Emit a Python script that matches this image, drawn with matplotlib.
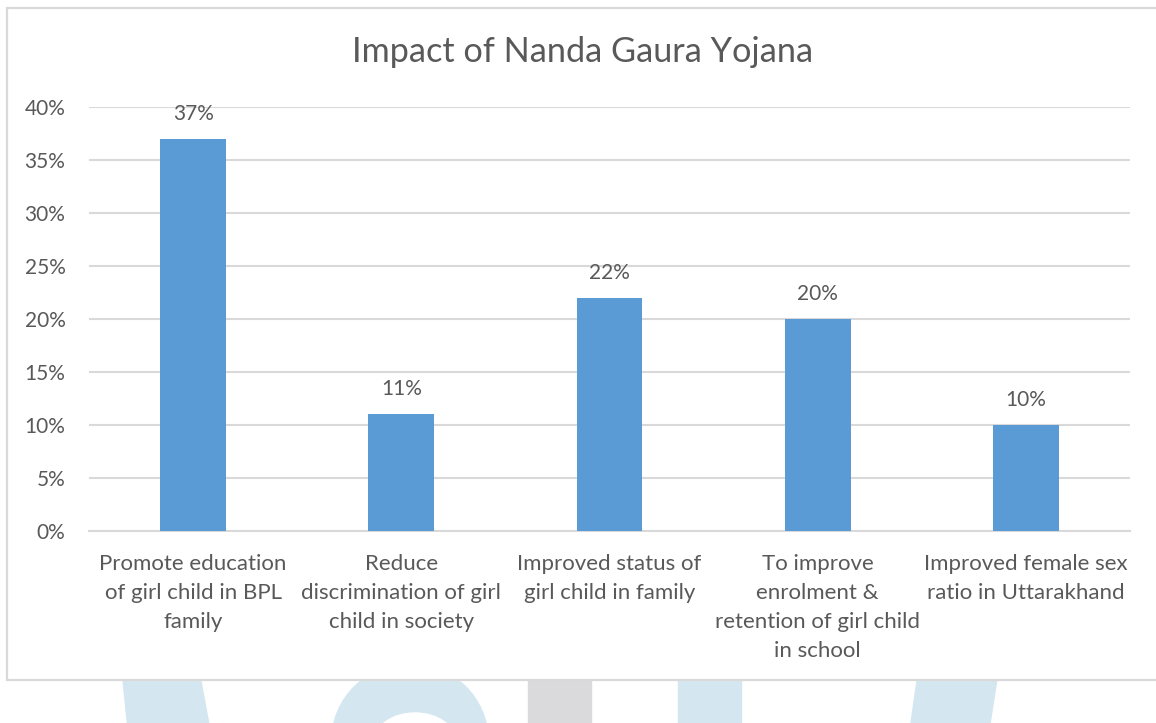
import matplotlib
matplotlib.use("Agg")
import matplotlib.pyplot as plt
from matplotlib.patches import Rectangle, Polygon, Ellipse
from matplotlib.ticker import FuncFormatter

categories = [
    "Promote education\nof girl child in BPL\nfamily",
    "Reduce\ndiscrimination of girl\nchild in society",
    "Improved status of\ngirl child in family",
    "To improve\nenrolment &\nretention of girl child\nin school",
    "Improved female sex\nratio in Uttarakhand",
]
values = [37, 11, 22, 20, 10]
yticks = [0, 5, 10, 15, 20, 25, 30, 35, 40]
title = "Impact of Nanda Gaura Yojana"

FONT = "Lato"
TXT = "#595959"
W, H = 1156, 723

fig = plt.figure(figsize=(W / 100, H / 100), dpi=100)
fig.patch.set_facecolor("white")

def fx(x):
    return x / W

def fy(y):
    return 1 - y / H

# watermark decoration below the chart box
wm_blue = "#d4e7f1"
wm_gray = "#dadadc"
deco = []
deco.append(Polygon([(fx(121), fy(660)), (fx(197), fy(660)), (fx(210), fy(730)), (fx(128), fy(730))],
                    closed=True, transform=fig.transFigure, color=wm_blue, zorder=0))
deco.append(Ellipse((fx(410), fy(740)), 2 * 78 / W, 2 * 76 / H, transform=fig.transFigure,
                    color=wm_blue, zorder=0))
deco.append(Ellipse((fx(415), fy(742)), 2 * 41 / W, 2 * 29 / H, transform=fig.transFigure,
                    color="white", zorder=0.5))
deco.append(Rectangle((fx(528), fy(730)), 63 / W, 70 / H, transform=fig.transFigure,
                      color=wm_gray, zorder=0))
deco.append(Rectangle((fx(678), fy(730)), 63 / W, 70 / H, transform=fig.transFigure,
                      color=wm_blue, zorder=0))
deco.append(Polygon([(fx(920), fy(660)), (fx(1000), fy(660)), (fx(989), fy(730)), (fx(910), fy(730))],
                    closed=True, transform=fig.transFigure, color=wm_blue, zorder=0))
for p in deco:
    fig.patches.append(p)

# chart box
box = Rectangle((fx(7), fy(680)), (1175 - 7) / W, (680 - 8) / H, transform=fig.transFigure,
                facecolor="white", edgecolor="#d9d9d9", linewidth=1.6, zorder=1)
fig.patches.append(box)

ax = fig.add_axes([89 / W, 1 - 531 / H, (1130 - 89) / W, (531 - 107) / H])
ax.set_zorder(2)
ax.patch.set_alpha(0)

x = list(range(len(categories)))
bars = ax.bar(x, values, width=0.317, color="#5b9bd5", zorder=3)
ax.set_xlim(-0.5, len(categories) - 0.5)
ax.set_ylim(0, 40)
ax.set_yticks(yticks)
ax.yaxis.set_major_formatter(FuncFormatter(lambda v, p: f"{int(v)}%"))
ax.grid(axis="y", color="#d9d9d9", linewidth=1.5, zorder=0)
ax.set_axisbelow(True)
for s in ["top", "right", "left"]:
    ax.spines[s].set_visible(False)
ax.spines["bottom"].set_color("#d9d9d9")
ax.spines["bottom"].set_linewidth(1.5)
ax.tick_params(axis="y", length=0, pad=17, labelsize=15, labelcolor=TXT)
ax.tick_params(axis="x", length=0, pad=16.5, labelsize=16, labelcolor=TXT)
ax.set_xticks(x)
ax.set_xticklabels(categories, fontfamily=FONT, linespacing=1.56, va="top")
for lab in ax.get_yticklabels():
    lab.set_fontfamily(FONT)

for xi, v in zip(x, values):
    ax.annotate(f"{v}%", (xi, v), xytext=(0, 11), textcoords="offset points",
                ha="center", va="bottom", fontsize=15, color=TXT, fontfamily=FONT)

fig.text(fx(583), fy(52), title, ha="center", va="center", fontsize=24.7,
         color=TXT, fontfamily=FONT, zorder=3)

fig.savefig("out.png", dpi=100, facecolor="white")
